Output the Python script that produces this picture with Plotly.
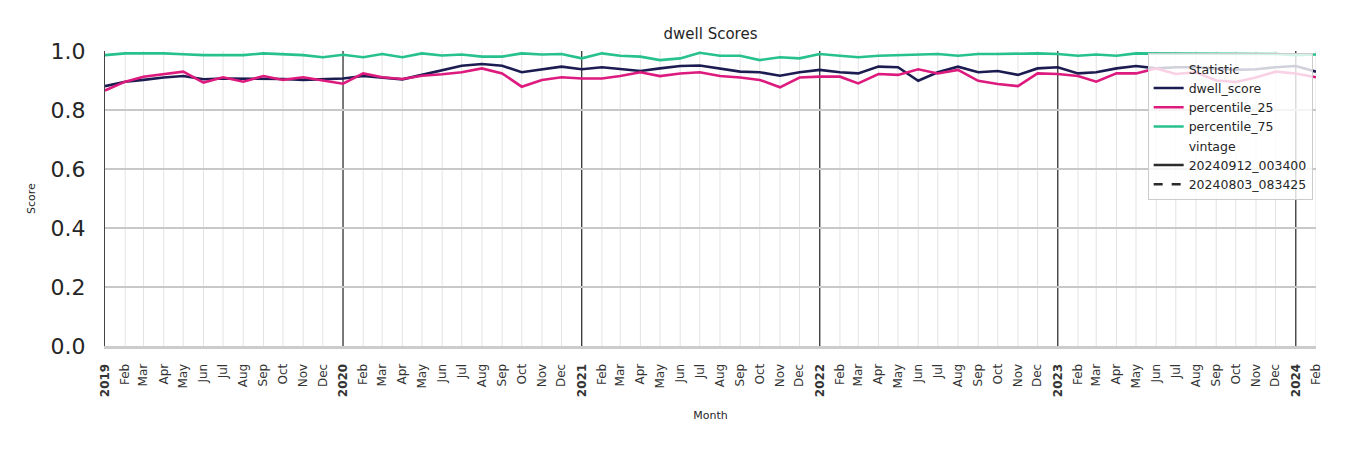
import pandas as pd
import plotly.graph_objects as go

months = [d.strftime("%Y-%m-%d") for d in pd.date_range("2019-01-01", periods=62, freq="MS")]

dwell_score = [
    0.881, 0.896, 0.902, 0.910, 0.915, 0.904, 0.907, 0.906, 0.907, 0.905, 0.902, 0.905,
    0.907, 0.915, 0.910, 0.904, 0.919, 0.936, 0.950, 0.956, 0.950, 0.928, 0.938, 0.947,
    0.938, 0.945, 0.939, 0.932, 0.941, 0.949, 0.951, 0.941, 0.930, 0.928, 0.916, 0.928,
    0.936, 0.928, 0.924, 0.947, 0.945, 0.899, 0.928, 0.947, 0.928, 0.932, 0.919, 0.941,
    0.945, 0.924, 0.928, 0.941, 0.949, 0.941, 0.945, 0.945, 0.941, 0.936, 0.938, 0.945,
    0.949, 0.930,
]
percentile_25 = [
    0.866, 0.896, 0.913, 0.921, 0.930, 0.893, 0.911, 0.896, 0.915, 0.902, 0.911, 0.900,
    0.889, 0.924, 0.911, 0.905, 0.916, 0.921, 0.928, 0.941, 0.924, 0.879, 0.902, 0.911,
    0.907, 0.907, 0.915, 0.928, 0.915, 0.924, 0.928, 0.915, 0.910, 0.902, 0.877, 0.910,
    0.913, 0.913, 0.890, 0.922, 0.919, 0.938, 0.924, 0.936, 0.899, 0.888, 0.881, 0.924,
    0.922, 0.915, 0.896, 0.924, 0.924, 0.941, 0.922, 0.928, 0.900, 0.895, 0.910, 0.930,
    0.924, 0.911,
]
percentile_75 = [
    0.986, 0.992, 0.992, 0.992, 0.989, 0.986, 0.986, 0.986, 0.992, 0.989, 0.986, 0.979,
    0.987, 0.979, 0.990, 0.979, 0.992, 0.985, 0.988, 0.981, 0.981, 0.992, 0.988, 0.990,
    0.975, 0.992, 0.984, 0.981, 0.969, 0.975, 0.994, 0.984, 0.984, 0.969, 0.979, 0.975,
    0.990, 0.984, 0.979, 0.984, 0.986, 0.988, 0.990, 0.984, 0.990, 0.990, 0.992, 0.992,
    0.990, 0.984, 0.988, 0.984, 0.992, 0.992, 0.990, 0.990, 0.992, 0.992, 0.992, 0.990,
    0.986, 0.988,
]
y_ticks = [0.0, 0.2, 0.4, 0.6, 0.8, 1.0]

colors = {"dwell_score": "#1c1c52", "percentile_25": "#dd1a7e", "percentile_75": "#27c18f"}
series = {"dwell_score": dwell_score, "percentile_25": percentile_25, "percentile_75": percentile_75}

tick_text = [f"<b>{m[:4]}</b>" if m[5:7] == "01" else pd.Timestamp(m).strftime("%b") for m in months]

fig = go.Figure()

def header(name):
    fig.add_trace(go.Scatter(x=[months[0]], y=[None], mode="lines", name=name,
                             line=dict(color="rgba(0,0,0,0)", width=0), hoverinfo="skip"))

header("Statistic")
for name, vals in series.items():
    fig.add_trace(go.Scatter(x=months, y=vals, mode="lines", name=name,
                             line=dict(color=colors[name], width=2.6)))
header("vintage")
fig.add_trace(go.Scatter(x=[months[0]], y=[None], mode="lines", name="20240912_003400",
                         line=dict(color="#2b2b2b", width=2.6)))
fig.add_trace(go.Scatter(x=[months[0]], y=[None], mode="lines", name="20240803_083425",
                         line=dict(color="#2b2b2b", width=2.6, dash="dash")))

# monthly minor gridlines, then darker year separators on top of them
for m in months[1:]:
    if m[5:7] != "01":
        fig.add_shape(type="line", xref="x", yref="paper", x0=m, x1=m, y0=0, y1=1,
                      line=dict(color="#e3e3e3", width=1), layer="below")
for m in months[1:]:
    if m[5:7] == "01":
        fig.add_shape(type="line", xref="x", yref="paper", x0=m, x1=m, y0=0, y1=1,
                      line=dict(color="#333333", width=1.3), layer="between")

fig.update_layout(
    width=1350, height=450,
    margin=dict(l=105, r=34, t=51, b=104),
    paper_bgcolor="white", plot_bgcolor="white",
    font=dict(family="DejaVu Sans", color="#333333"),
    title=dict(text="dwell Scores", x=(105 + 1316) / 2 / 1350, xanchor="center",
               y=1 - 34 / 450, yanchor="middle", yref="container",
               font=dict(size=15, color="#262626")),
    showlegend=True,
    legend=dict(x=0.861, y=0.993, xanchor="left", yanchor="top",
                bgcolor="rgba(255,255,255,0.8)", bordercolor="#cccccc", borderwidth=1,
                font=dict(size=12.5, color="#262626"), traceorder="normal"),
)
fig.update_xaxes(
    type="date",
    range=[months[0], months[-1]],
    tickmode="array", tickvals=months, ticktext=tick_text,
    tickangle=-90, tickfont=dict(size=12, color="#333333"),
    showgrid=False,
    showline=True, linecolor="#cccccc", linewidth=3,
    ticks="", ticklabelstandoff=10,
    title=dict(text="Month", font=dict(size=11, color="#262626"), standoff=16),
    zeroline=False,
)
fig.update_yaxes(
    range=[0, 1], tickmode="array", tickvals=y_ticks,
    ticktext=[f"{v:.1f}" for v in y_ticks],
    tickfont=dict(size=22, color="#262626"),
    showgrid=True, gridcolor="#c8c8c8", gridwidth=1.5,
    showline=True, linecolor="#444444", linewidth=1,
    ticks="", ticklabelstandoff=14, zeroline=False,
    title=dict(text="Score", font=dict(size=11, color="#262626"), standoff=12),
)

fig.write_html("out.html")
